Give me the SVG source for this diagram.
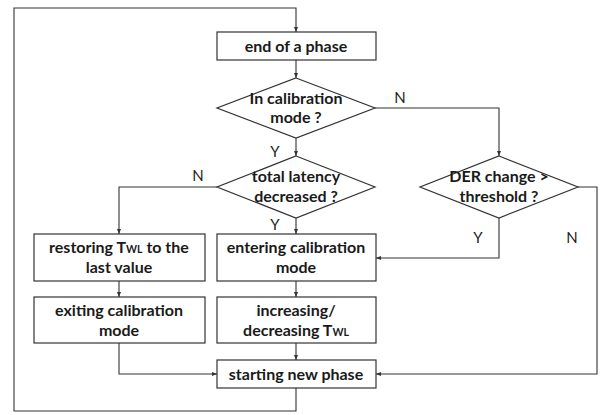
<svg xmlns="http://www.w3.org/2000/svg" width="600" height="415" viewBox="0 0 600 415">
<style>
.box{fill:#fff;stroke:#333;stroke-width:1.2}
.t{font-family:Lato,"Liberation Sans",sans-serif;font-weight:bold;font-size:16px;fill:#1a1a1a;text-anchor:middle}
.s{font-size:10.5px}
.l{font-family:Lato,"Liberation Sans",sans-serif;font-size:15px;fill:#222;text-anchor:middle}
.c{fill:none;stroke:#333;stroke-width:1.1}
</style>
<defs>
<marker id="a" viewBox="0 0 10 10" refX="10" refY="5" markerWidth="5" markerHeight="5" orient="auto" markerUnits="userSpaceOnUse">
<path d="M0,1 L10,5 L0,9 z" fill="#333"/>
</marker>
</defs>
<rect width="600" height="415" fill="#fff"/>
<g id="connectors">
<path class="c" d="M296,388 V411 H14 V8 H296 V32" marker-end="url(#a)"/>
<path class="c" d="M296,60 V78" marker-end="url(#a)"/>
<path class="c" d="M375,108 H499 V156" marker-end="url(#a)"/>
<path class="c" d="M296,138 V156" marker-end="url(#a)"/>
<path class="c" d="M217,187 H119 V234" marker-end="url(#a)"/>
<path class="c" d="M296,218 V234" marker-end="url(#a)"/>
<path class="c" d="M499,218 V258 H376" marker-end="url(#a)"/>
<path class="c" d="M578,187 H597 V374 H376" marker-end="url(#a)"/>
<path class="c" d="M119,281 V297" marker-end="url(#a)"/>
<path class="c" d="M296,281 V297" marker-end="url(#a)"/>
<path class="c" d="M296,343 V360" marker-end="url(#a)"/>
<path class="c" d="M119,343 V374 H217" marker-end="url(#a)"/>
<text class="l" x="400" y="103">N</text>
<text class="l" x="275" y="157">Y</text>
<text class="l" x="198" y="181">N</text>
<text class="l" x="275" y="230">Y</text>
<text class="l" x="478" y="243">Y</text>
<text class="l" x="572" y="243">N</text>
</g>
<g id="end-phase">
<rect class="box" x="217" y="32" width="159" height="28"/>
<text class="t" x="296" y="51.5">end of a phase</text>
</g>
<g id="in-calibration">
<polygon class="box" points="296,78 375,108 296,138 217,108"/>
<text class="t" x="296" y="104">In calibration</text>
<text class="t" x="296" y="123">mode ?</text>
</g>
<g id="latency-decreased">
<polygon class="box" points="296,156 375,187 296,218 217,187"/>
<text class="t" x="296" y="182">total latency</text>
<text class="t" x="296" y="202">decreased ?</text>
</g>
<g id="der-change">
<polygon class="box" points="499,156 578,187 499,218 420,187"/>
<text class="t" x="499" y="182">DER change &gt;</text>
<text class="t" x="499" y="202">threshold ?</text>
</g>
<g id="restoring">
<rect class="box" x="34" y="234" width="171" height="47"/>
<text class="t" x="119" y="253">restoring T<tspan class="s">WL</tspan> to the</text>
<text class="t" x="119" y="273">last value</text>
</g>
<g id="entering">
<rect class="box" x="217" y="234" width="159" height="47"/>
<text class="t" x="296" y="253">entering calibration</text>
<text class="t" x="296" y="273">mode</text>
</g>
<g id="exiting">
<rect class="box" x="34" y="297" width="171" height="46"/>
<text class="t" x="119" y="316">exiting calibration</text>
<text class="t" x="119" y="336">mode</text>
</g>
<g id="increasing">
<rect class="box" x="217" y="297" width="159" height="46"/>
<text class="t" x="296" y="316">increasing/</text>
<text class="t" x="296" y="336">decreasing T<tspan class="s">WL</tspan></text>
</g>
<g id="starting">
<rect class="box" x="217" y="360" width="159" height="28"/>
<text class="t" x="296" y="379.5">starting new phase</text>
</g>
</svg>
